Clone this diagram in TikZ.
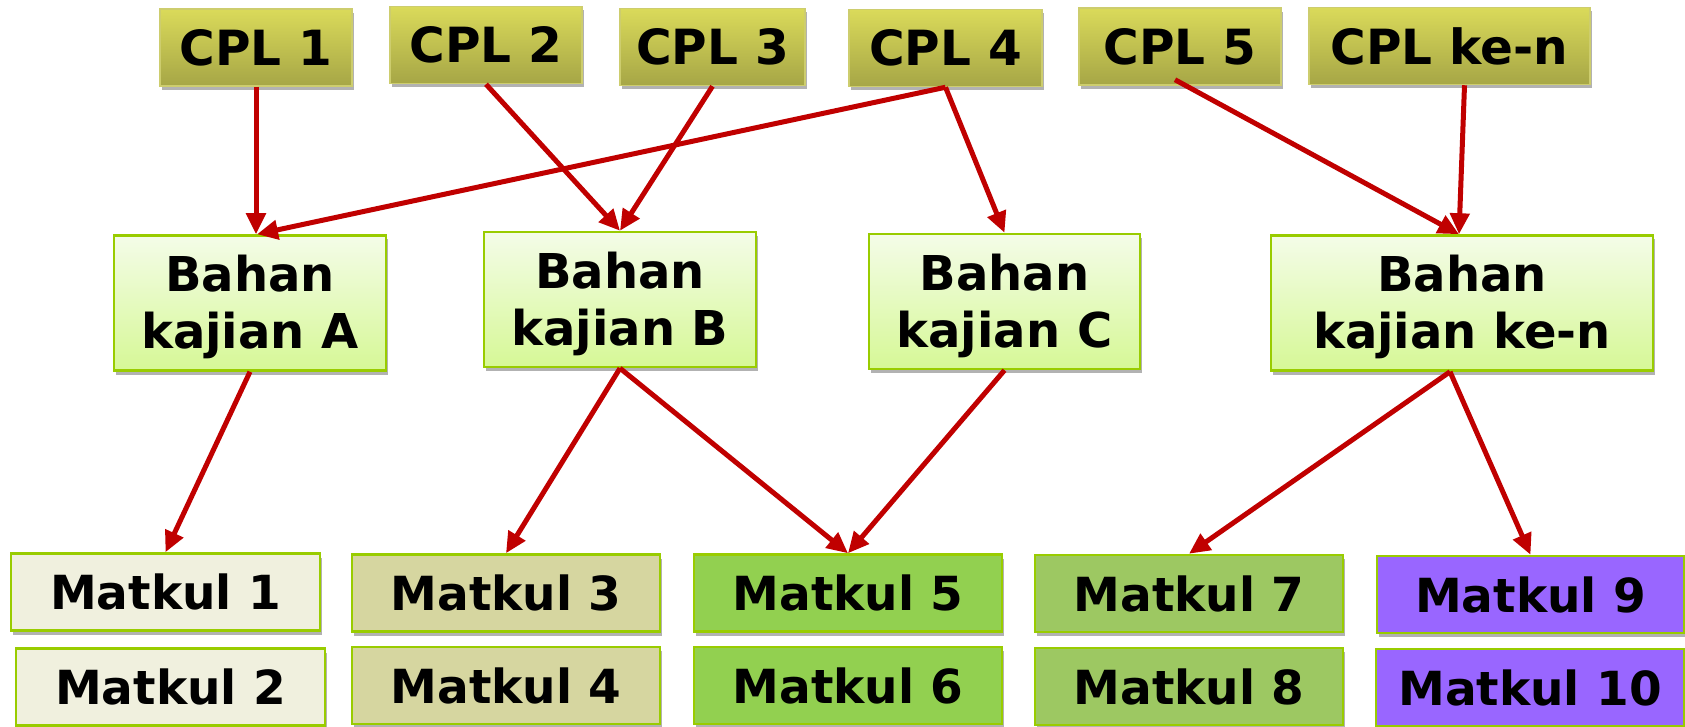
\documentclass[tikz,border=0pt]{standalone}
\usepackage{fontspec}
\setmainfont{DejaVu Sans}
\usetikzlibrary{arrows.meta,shadows}
\definecolor{cplTop}{RGB}{218,218,90}
\definecolor{cplBot}{RGB}{166,166,70}
\definecolor{cplLine}{RGB}{205,205,110}
\definecolor{bhTop}{RGB}{244,252,232}
\definecolor{bhBot}{RGB}{214,248,150}
\definecolor{grLine}{RGB}{153,204,0}
\definecolor{mkA}{RGB}{240,240,222}
\definecolor{mkB}{RGB}{214,214,160}
\definecolor{mkC}{RGB}{146,208,80}
\definecolor{mkD}{RGB}{157,200,98}
\definecolor{mkE}{RGB}{153,102,255}
\definecolor{arr}{RGB}{192,0,0}
\begin{document}
\begin{tikzpicture}[x=1pt,y=-1pt,
  base/.style={rectangle, inner sep=0pt, font=\fontsize{47}{58}\selectfont\bfseries,
    drop shadow={shadow xshift=2pt, shadow yshift=-4pt, opacity=0.3, fill=black}},
  cpl/.style={base, font=\fontsize{48.5}{58}\selectfont\bfseries, draw=cplLine, line width=1.5pt, top color=cplTop, bottom color=cplBot, minimum height=77pt},
  bahan/.style={base, draw=grLine, line width=2.5pt, top color=bhTop, bottom color=bhBot, minimum height=135pt, minimum width=272pt},
  btext/.style={font=\fontsize{48}{57}\selectfont\bfseries, align=center, yshift=-4pt},
  mk/.style={base, draw=grLine, line width=2.5pt, minimum width=308pt, minimum height=77pt},
  link/.style={draw=arr, line width=5pt, -{Triangle[length=21pt,width=19pt]}}
]
\fill[white] (0,0) rectangle (1685,727);
\useasboundingbox (0,0) rectangle (1685,727);

\node[cpl, minimum width=192pt] (cpl1) at (256,47.5) {CPL 1};
\node[cpl, minimum width=192pt] (cpl2) at (486,45) {CPL 2};
\node[cpl, minimum width=185pt] (cpl3) at (712.5,47) {CPL 3};
\node[cpl, minimum width=193pt] (cpl4) at (945.5,48) {CPL 4};
\node[cpl, minimum width=202pt] (cpl5) at (1180,46.5) {CPL 5};
\node[cpl, minimum width=281pt] (cpln) at (1449.5,46) {CPL ke-n};

\node[bahan, label={[btext]center:Bahan\\kajian A}] (bA) at (250,303) {};
\node[bahan, label={[btext]center:Bahan\\kajian B}] (bB) at (620,299.5) {};
\node[bahan, minimum width=271pt, label={[btext]center:Bahan\\kajian C}] (bC) at (1004.5,301.5) {};
\node[bahan, minimum width=382pt, label={[btext]center:Bahan\\kajian ke-n}] (bN) at (1462,303) {};

\node[mk, fill=mkA, minimum width=309pt] (m1) at (165.5,592) {Matkul 1};
\node[mk, fill=mkA, minimum width=309pt] (m2) at (170.5,687) {Matkul 2};
\node[mk, fill=mkB] (m3) at (506,593) {Matkul 3};
\node[mk, fill=mkB] (m4) at (506,685.5) {Matkul 4};
\node[mk, fill=mkC] (m5) at (848,593) {Matkul 5};
\node[mk, fill=mkC] (m6) at (848,685.5) {Matkul 6};
\node[mk, fill=mkD] (m7) at (1189,593.5) {Matkul 7};
\node[mk, fill=mkD] (m8) at (1189,686.5) {Matkul 8};
\node[mk, fill=mkE, minimum width=307pt] (m9) at (1530.5,594.5) {Matkul 9};
\node[mk, fill=mkE, minimum width=308pt] (m10) at (1530,687.5) {Matkul 10};

\draw[link] (cpl1.south) -- ([xshift=6pt]bA.north);
\draw[link] (cpl4.south) -- ([xshift=7pt]bA.north);
\draw[link] (cpl4.south) -- (bC.north);
\draw[link] (cpl2.south) -- (bB.north);
\draw[link] (cpl3.south) -- (bB.north);
\draw[link] ([xshift=-5pt,yshift=6pt]cpl5.south) -- ([xshift=-3pt]bN.north);
\draw[link] ([xshift=15pt]cpln.south) -- ([xshift=-3pt]bN.north);
\draw[link] (bA.south) -- (m1.north);
\draw[link] (bB.south) -- (m3.north);
\draw[link] (bB.south) -- (m5.north);
\draw[link] (bC.south) -- (m5.north);
\draw[link] ([xshift=-12pt]bN.south) -- (m7.north);
\draw[link] ([xshift=-12pt]bN.south) -- (m9.north);
\end{tikzpicture}
\end{document}
